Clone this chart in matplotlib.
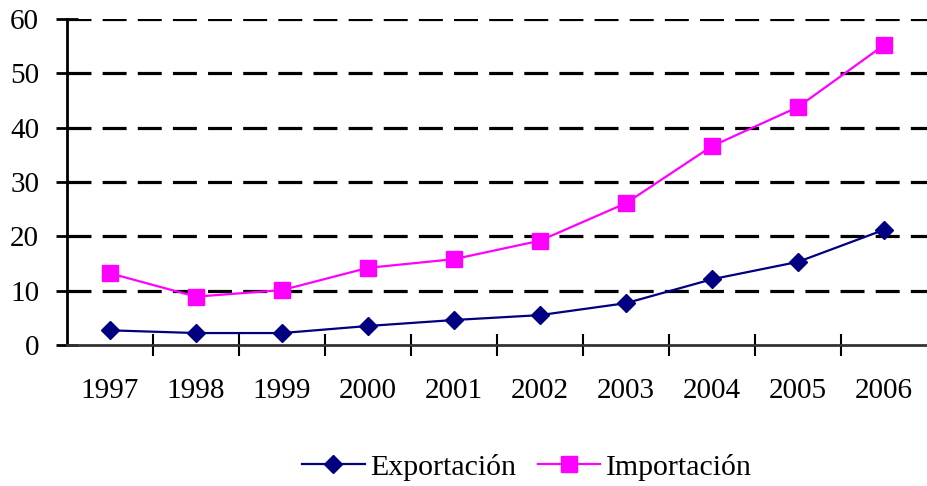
import matplotlib
matplotlib.use("Agg")
import matplotlib.pyplot as plt

years = ["1997", "1998", "1999", "2000", "2001", "2002", "2003", "2004", "2005", "2006"]
exportacion = [2.7, 2.2, 2.2, 3.5, 4.6, 5.5, 7.7, 12.1, 15.3, 21.2]
importacion = [13.2, 8.9, 10.1, 14.2, 15.8, 19.2, 26.1, 36.6, 43.8, 55.2]
yticks = [0, 10, 20, 30, 40, 50, 60]

plt.rcParams['font.family'] = ['Liberation Serif', 'DejaVu Serif']

fig = plt.figure(figsize=(9.27, 4.86), dpi=100)
ax = fig.add_axes([67/927, 1 - 345/486, 860/927, (345 - 19)/486])

x = list(range(len(years)))
ax.plot(x, exportacion, color='#000080', lw=1.6, marker='D', markersize=9,
        label='Exportación', zorder=4)
ax.plot(x, importacion, color='#ff00ff', lw=1.6, marker='s', markersize=11,
        label='Importación', zorder=4)

ax.set_xlim(-0.5, 9.5)
ax.set_ylim(0, 60)
ax.set_yticks(yticks)
ax.set_xticks([i + 0.5 for i in range(9)])
ax.set_xticklabels([])
ax.set_xticks(x, minor=True)
ax.set_xticklabels(years, minor=True)
ax.tick_params(axis='x', which='minor', length=0, pad=24, labelsize=21)
ax.tick_params(axis='x', which='major', direction='inout', length=16, width=1.5)
ax.tick_params(axis='y', direction='inout', length=16, width=2, pad=12, labelsize=21)

for yv in yticks[1:]:
    ax.axhline(yv, color='black', lw=2.3, dashes=(7.5, 3.5), zorder=2)

for s in ['top', 'right']:
    ax.spines[s].set_visible(False)
ax.spines['left'].set_linewidth(2)
ax.spines['bottom'].set_linewidth(2)
ax.spines['bottom'].set_color('#333333')

fig.legend(loc='center', bbox_to_anchor=(527/927, 1 - 467/486), ncol=2,
           frameon=False, fontsize=21.5, handlelength=2.1, handletextpad=0.2,
           columnspacing=0.7)

fig.savefig('out.png', dpi=100)
